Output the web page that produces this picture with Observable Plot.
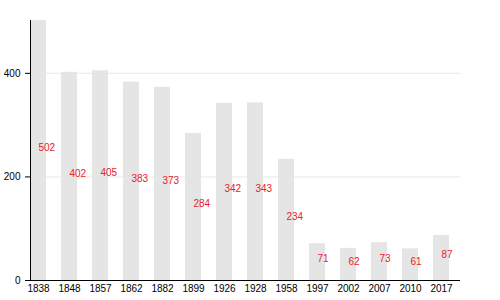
<!DOCTYPE html>
<html>
<head>
<meta charset="utf-8">
<script src="https://cdn.jsdelivr.net/npm/d3@7"></script>
<script src="https://cdn.jsdelivr.net/npm/@observablehq/plot@0.6"></script>
<style>
  html, body { margin: 0; padding: 0; background: #fff; }
  svg { font-family: "Liberation Sans", Arial, sans-serif; }
</style>
</head>
<body>
<div id="chart"></div>
<script>
const years = ["1838","1848","1857","1862","1882","1899","1926","1928","1958","1997","2002","2007","2010","2017"];
const population = [502, 402, 405, 383, 373, 284, 342, 343, 234, 71, 62, 73, 61, 87];
const yTicks = [0, 200, 400];

const data = years.map((y, i) => ({year: y, value: population[i]}));

const plot = Plot.plot({
  width: 500,
  height: 300,
  marginLeft: 30,
  marginRight: 40,
  marginTop: 20,
  marginBottom: 20,
  style: {fontSize: "10px", fontFamily: "'Liberation Sans', Arial, sans-serif", background: "#fff", color: "#000"},
  x: {domain: years, paddingInner: 0.5, paddingOuter: 0, align: 0, label: null},
  y: {domain: [0, 502], label: null},
  marks: [
    Plot.gridY(yTicks.filter(d => d > 0), {stroke: "#e8e8e8", strokeOpacity: 1}),
    Plot.barY(data, {x: "year", y: "value", fill: "#e5e5e5"}),
    Plot.axisX({tickSize: 0, tickPadding: 4}),
    Plot.axisY(yTicks, {tickSize: 5, tickPadding: 5}),
    Plot.ruleY([0], {stroke: "#000", strokeWidth: 1}),
    Plot.frame({anchor: "left", stroke: "#000"}),
    Plot.text(data, {x: "year", y: d => d.value / 2, text: d => String(d.value), textAnchor: "start", dy: -3, fill: "#e8202a", fontSize: 10})
  ]
});
document.getElementById("chart").appendChild(plot);
</script>
</body>
</html>
